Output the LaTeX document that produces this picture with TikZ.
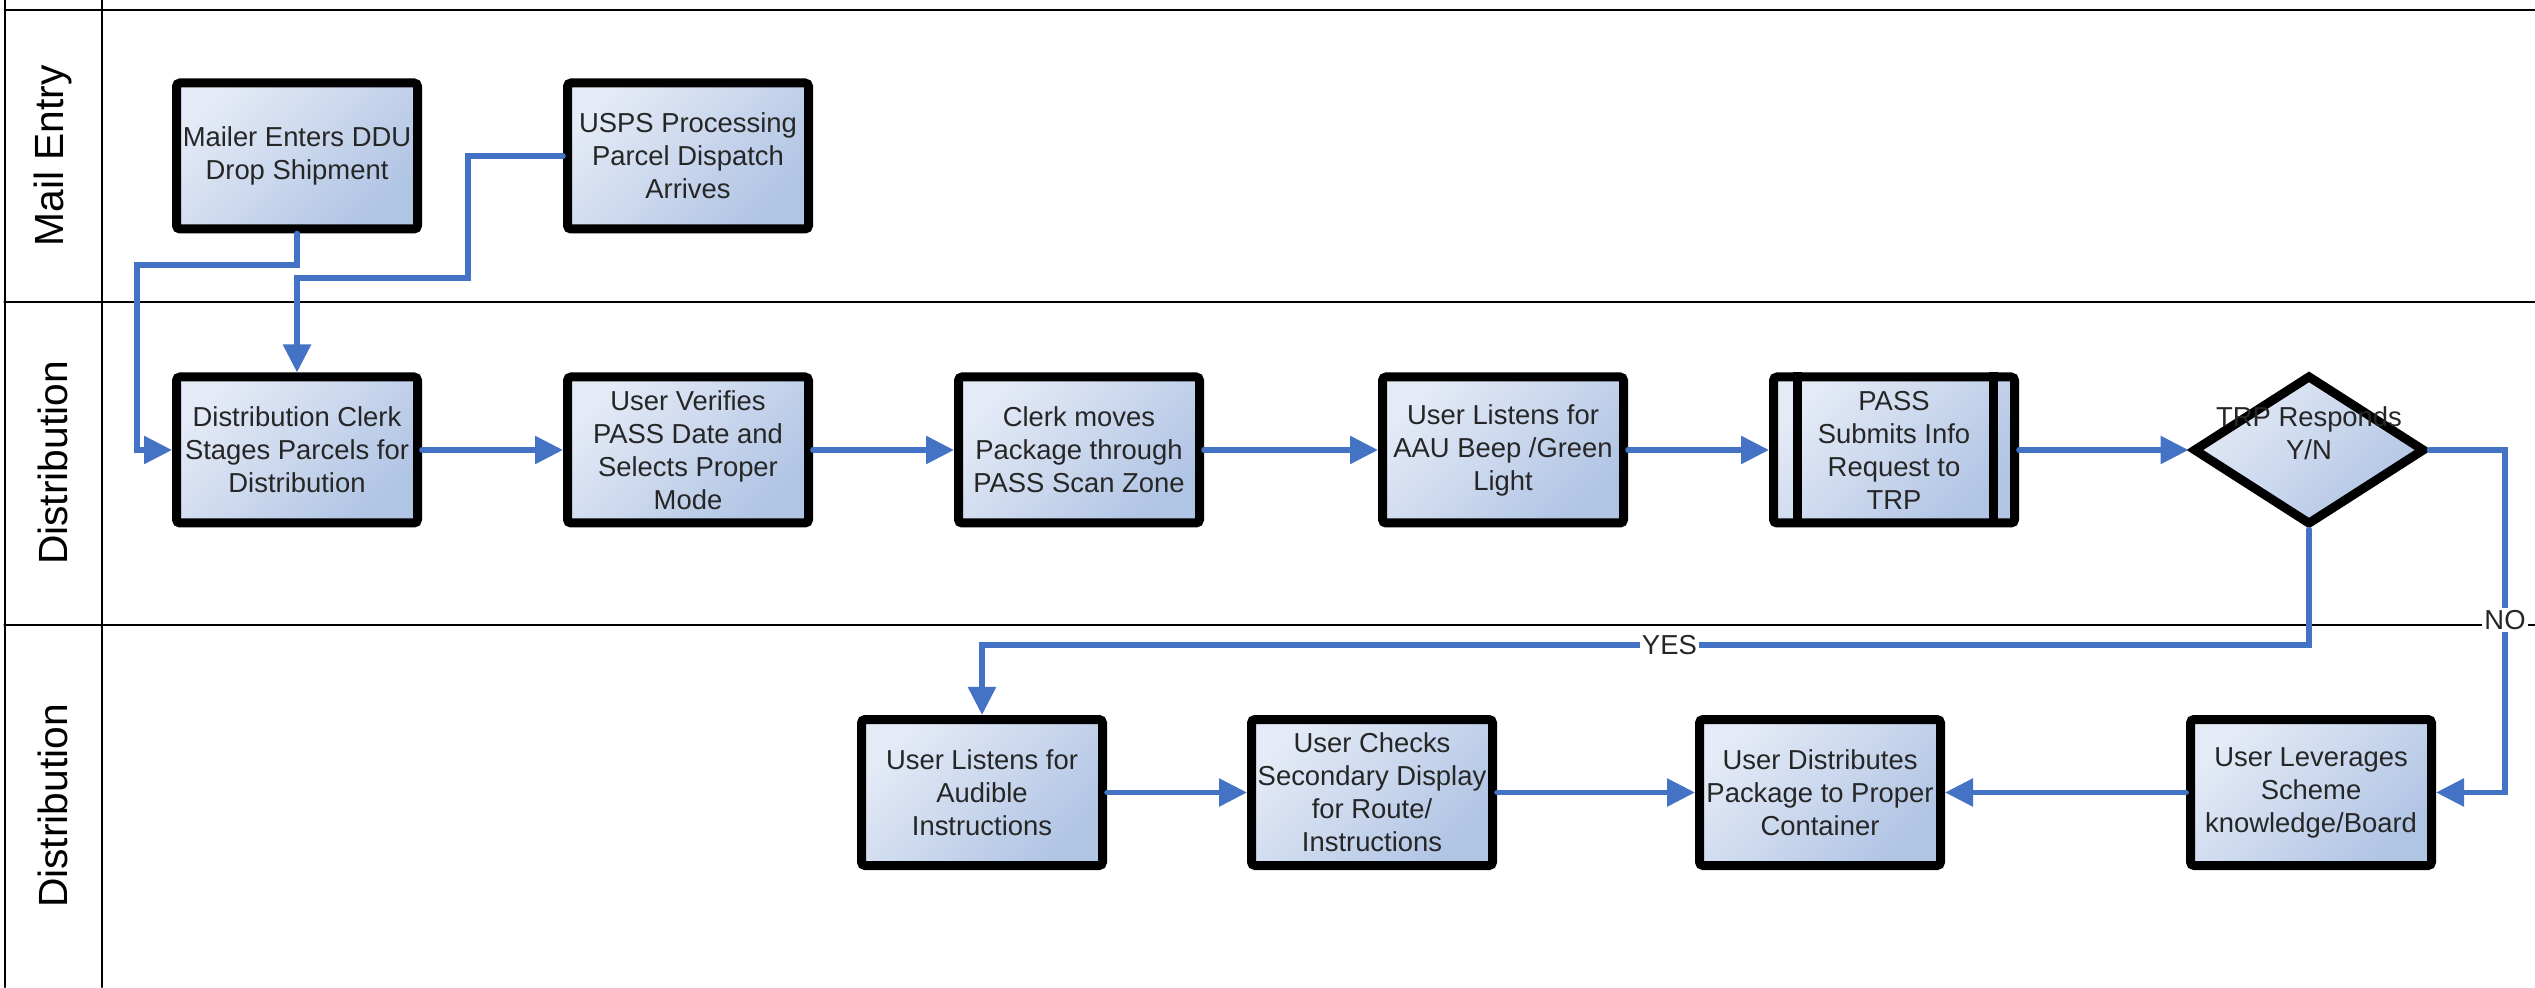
\documentclass[tikz,border=0pt]{standalone}
\usepackage{fontspec}
\setmainfont{Liberation Sans}
\usepackage{tikz}
\usetikzlibrary{arrows.meta,shapes.geometric}
\usepackage{xcolor}
\definecolor{flowblue}{RGB}{68,114,196}
\definecolor{boxlight}{RGB}{228,234,246}
\definecolor{boxdark}{RGB}{176,196,228}

\begin{document}
\begin{tikzpicture}[>={Triangle[length=2.8mm,width=2.7mm]},line cap=round,
  task/.style={draw=black,line width=0.9mm,rounded corners=1pt,top color=boxlight,bottom color=boxdark,shading angle=45,
    minimum width=24.1mm,minimum height=14.6mm,inner sep=1pt,align=center,font=\fontsize{7.8}{9.4}\selectfont,text=black!85},
  decide/.style={diamond,draw=black,line width=0.9mm,top color=boxlight,bottom color=boxdark,shading angle=45,
    minimum width=23.2mm,minimum height=15mm,inner sep=0pt},
  flow/.style={->,draw=flowblue,line width=1.6pt},
  lanetext/.style={rotate=90,font=\fontsize{11.6}{14}\selectfont},
  tag/.style={fill=white,inner sep=0.6pt,align=center,font=\fontsize{7.8}{9.4}\selectfont,text=black!85}]
\useasboundingbox (0,0) rectangle (25.35,9.87);
% swim lanes
\draw[line width=0.6pt] (0.046,0) -- (0.046,9.87);
\draw[line width=0.6pt] (1.02,0) -- (1.02,9.87);
\draw[line width=0.6pt] (0.046,9.77) -- (25.35,9.77);
\draw[line width=0.8pt] (0.046,6.85) -- (25.35,6.85);
\draw[line width=0.8pt] (0.046,3.62) -- (25.35,3.62);
\node[lanetext] (entry) at (0.53,8.31) {Mail Entry};
\node[lanetext] (distA) at (0.53,5.24) {Distribution};
\node[lanetext] (distB) at (0.53,1.81) {Distribution};
% mail entry
\node[task] (mailer) at (2.97,8.31) {Mailer Enters DDU\\Drop Shipment};
\node[task] (usps) at (6.88,8.31) {USPS Processing\\Parcel Dispatch\\Arrives};
% distribution
\node[task] (stage) at (2.97,5.37) {Distribution Clerk\\Stages Parcels for\\Distribution};
\node[task] (verify) at (6.88,5.37) {User Verifies\\PASS Date and\\Selects Proper\\Mode};
\node[task] (scan) at (10.79,5.37) {Clerk moves\\Package through\\PASS Scan Zone};
\node[task] (beep) at (15.03,5.37) {User Listens for\\AAU Beep /Green\\Light};
\node[task] (submit) at (18.94,5.37) {PASS\\Submits Info\\Request to\\TRP};
\draw[line width=0.9mm,line cap=butt] ([xshift=2.8mm]submit.north west) -- ([xshift=2.8mm]submit.south west);
\draw[line width=0.9mm,line cap=butt] ([xshift=-2.6mm]submit.north east) -- ([xshift=-2.6mm]submit.south east);
\node[decide] (trp) at (23.09,5.37) {};
\node[tag,fill=none] (trptext) at (23.09,5.535) {TRP Responds\\Y/N};
% second distribution lane
\node[task] (audible) at (9.82,1.945) {User Listens for\\Audible\\Instructions};
\node[task] (display) at (13.72,1.945) {User Checks\\Secondary Display\\for Route/\\Instructions};
\node[task] (container) at (18.20,1.945) {User Distributes\\Package to Proper\\Container};
\node[task] (scheme) at (23.11,1.945) {User Leverages\\Scheme\\knowledge/Board};
% flows
\draw[flow] (mailer.south) |- (1.37,7.22) |- (stage.west);
\draw[flow] (usps.west) -| (4.68,7.09) -| (stage.north);
\draw[flow] (stage.east) -- (verify.west);
\draw[flow] (verify.east) -- (scan.west);
\draw[flow] (scan.east) -- (beep.west);
\draw[flow] (beep.east) -- (submit.west);
\draw[flow] (submit.east) -- (trp.west);
\draw[flow] (trp.east) -- (25.05,5.37) |- node[tag,pos=0.248] (no) {NO} (scheme.east);
\draw[flow] (trp.south) -- (23.09,3.42) -| node[tag,pos=0.241] (yes) {YES} (audible.north);
\draw[flow] (audible.east) -- (display.west);
\draw[flow] (display.east) -- (container.west);
\draw[flow] (scheme.west) -- (container.east);
\end{tikzpicture}
\end{document}
